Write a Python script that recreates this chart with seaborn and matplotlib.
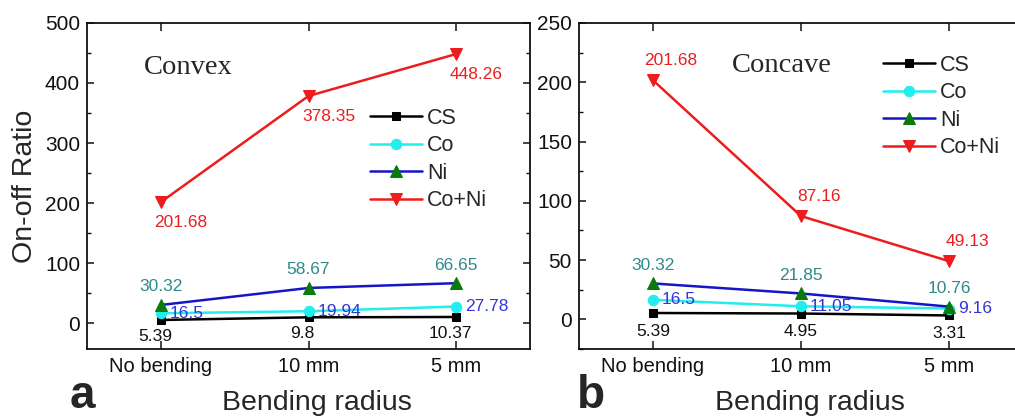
import matplotlib
matplotlib.use("Agg")
import matplotlib.pyplot as plt
from matplotlib.ticker import MultipleLocator
import seaborn as sns
import numpy as np
import pandas as pd

# ---------------- data ----------------
categories = ["No bending", "10 mm", "5 mm"]
series_names = ["CS", "Co", "Ni", "Co+Ni"]

convex_cs = [5.39, 9.8, 10.37]
convex_co = [16.5, 19.94, 27.78]
convex_ni = [30.32, 58.67, 66.65]
convex_coni = [201.68, 378.35, 448.26]

concave_cs = [5.39, 4.95, 3.31]
concave_co = [16.5, 11.05, 9.16]
concave_ni = [30.32, 21.85, 10.76]
concave_coni = [201.68, 87.16, 49.13]

convex_labels = [["5.39", "9.8", "10.37"], ["16.5", "19.94", "27.78"],
                 ["30.32", "58.67", "66.65"], ["201.68", "378.35", "448.26"]]
concave_labels = [["5.39", "4.95", "3.31"], ["16.5", "11.05", "9.16"],
                  ["30.32", "21.85", "10.76"], ["201.68", "87.16", "49.13"]]

# ---------------- style ----------------
sns.set_style("ticks")
plt.rcParams["font.family"] = ["Liberation Sans", "DejaVu Sans"]

line_colors = {"CS": "#000000", "Co": "#22eeee", "Ni": "#1515c8", "Co+Ni": "#ee1c1c"}
marker_face = {"CS": "#000000", "Co": "#22eeee", "Ni": "#0a7a0a", "Co+Ni": "#ee1c1c"}
markers = {"CS": "s", "Co": "o", "Ni": "^", "Co+Ni": "v"}
marker_sizes = {"CS": 6, "Co": 7.5, "Ni": 8, "Co+Ni": 8}
label_colors = {"CS": "#111111", "Co": "#3535d8", "Ni": "#2e8b8b", "Co+Ni": "#e82020"}

fig = plt.figure(figsize=(10.15, 4.17), dpi=100)
axL = fig.add_axes([0.0857, 0.163, 0.4365, 0.782])
axR = fig.add_axes([0.5704, 0.163, 0.4374, 0.782])


def make_df(vals):
    rows = []
    for name, v in zip(series_names, vals):
        for i, y in enumerate(v):
            rows.append({"pos": i, "value": y, "series": name})
    return pd.DataFrame(rows)


def draw(ax, vals, labels, offsets, ylim, major, minor, title, title_xy, leg_anchor):
    df = make_df(vals)
    for name in series_names:
        sub = df[df["series"] == name]
        sns.lineplot(data=sub, x="pos", y="value", ax=ax, color=line_colors[name],
                     marker=markers[name], markersize=marker_sizes[name],
                     markerfacecolor=marker_face[name], markeredgecolor=marker_face[name],
                     linewidth=1.8, label=name, sort=False)
    for si, name in enumerate(series_names):
        sub = df[df["series"] == name]
        dx, dy, ha = offsets[name]
        for i, (x, y) in enumerate(zip(sub["pos"], sub["value"])):
            ax.annotate(labels[si][i], (x, y), xytext=(dx, dy), textcoords="offset points",
                        ha=ha, va="center", fontsize=12.5, color=label_colors[name])
    ax.set_xlim(-0.5, 2.5)
    ax.set_ylim(*ylim)
    ax.set_xticks(range(len(categories)))
    ax.set_xticklabels(categories)
    ax.yaxis.set_major_locator(MultipleLocator(major))
    ax.yaxis.set_minor_locator(MultipleLocator(minor))
    ax.tick_params(axis="both", which="both", direction="in", top=True, right=True,
                   colors="#111111")
    ax.tick_params(axis="y", which="major", length=5, width=1.1, labelsize=15, pad=5)
    ax.tick_params(axis="y", which="minor", length=3, width=1.0)
    ax.tick_params(axis="x", which="major", length=6, width=1.1, labelsize=14.5, pad=6)
    for sp in ax.spines.values():
        sp.set_visible(True)
        sp.set_linewidth(1.3)
        sp.set_color("#111111")
    ax.set_xlabel("Bending radius", fontsize=20.5)
    ax.xaxis.set_label_coords(0.52, -0.125)
    ax.text(title_xy[0], title_xy[1], title, transform=ax.transAxes, fontsize=20.5,
            family="Liberation Serif", ha="left", va="center")
    ax.legend(loc="upper left", bbox_to_anchor=leg_anchor, frameon=False,
              fontsize=15.5, handlelength=2.4, handletextpad=0.25,
              labelspacing=0.3, borderpad=0, borderaxespad=0)
    return ax


conv_offsets = {"CS": (-4.3, -12, "center"), "Co": (6.5, 0, "left"),
                "Ni": (0, 13, "center"), "Co+Ni": (14.4, -15, "center")}
conc_offsets = {"CS": (0, -13, "center"), "Co": (6.5, 0, "left"),
                "Ni": (0, 13, "center"), "Co+Ni": (13, 14, "center")}

draw(axL, [convex_cs, convex_co, convex_ni, convex_coni], convex_labels, conv_offsets,
     (-43, 500), 100, 50, "Convex", ((144 - 87) / 443, (349 - 68) / 326), (0.639, 0.74))
draw(axR, [concave_cs, concave_co, concave_ni, concave_coni], concave_labels, conc_offsets,
     (-25, 250), 50, 25, "Concave", ((732 - 579) / 444, (349 - 66) / 326), (0.685, 0.902))

axL.set_ylabel("On-off Ratio", fontsize=20.5)
axL.yaxis.set_label_coords(-0.11, 0.5)
axR.set_ylabel("")

fig.text(70 / 1015, 9 / 417, "a", fontsize=33, fontweight="bold", ha="left", va="baseline")
fig.text(577 / 1015, 9 / 417, "b", fontsize=33, fontweight="bold", ha="left", va="baseline")

fig.savefig("out.png", dpi=100)
